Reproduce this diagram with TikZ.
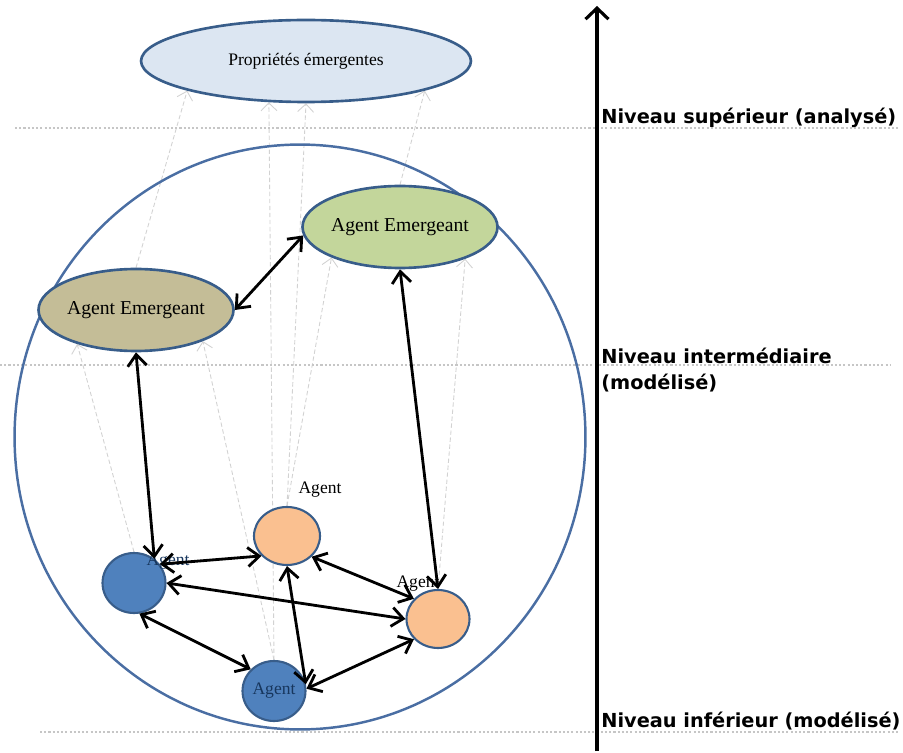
\documentclass[tikz,border=0pt]{standalone}
\usepackage{fontspec}
\setmainfont{Liberation Serif}
\newfontfamily\levelfont{DejaVu Sans}
\usepackage{tikz}
\usetikzlibrary{arrows.meta,shapes.geometric}
\pgfdeclarelayer{back}
\pgfsetlayers{back,main}

\definecolor{edge}{RGB}{56,93,138}
\definecolor{rim}{RGB}{74,110,163}
\definecolor{propfill}{RGB}{220,230,242}
\definecolor{greenfill}{RGB}{195,214,155}
\definecolor{tanfill}{RGB}{196,189,151}
\definecolor{bluefill}{RGB}{79,129,189}
\definecolor{orangefill}{RGB}{250,192,144}
\definecolor{navy}{RGB}{23,54,93}

\begin{document}
\begin{tikzpicture}[
    x=0.02cm, y=-0.02cm,
    emerg/.style={draw=edge, line width=1.5pt, ellipse, inner sep=0pt, minimum width=3.28cm, minimum height=1.64cm, fill=#1, font=\fontsize{11.2}{13}\selectfont},
    agent/.style={draw=edge, line width=1.2pt, ellipse, inner sep=0pt, minimum width=1.26cm, minimum height=1.2cm, fill=#1, font=\fontsize{10}{12}\selectfont},
    tag/.style={inner sep=0pt, font=\fontsize{10}{12}\selectfont},
    link/.style={{Straight Barb[length=2.3mm,width=3.8mm]}-{Straight Barb[length=2.3mm,width=3.8mm]}, line width=1.6pt},
    rise/.style={-{Straight Barb[length=1.6mm,width=3.2mm]}, gray!35, dash pattern=on 2.5pt off 1.5pt, line width=0.5pt},
    level/.style={anchor=west, inner sep=0pt, align=left, font=\levelfont\bfseries\fontsize{11}{14.7}\selectfont},
    sep/.style={gray!45, dash pattern=on 1.2pt off 1.2pt, line width=0.6pt}
]
\useasboundingbox (0,0) rectangle (903,753);

% Emergent properties
\node[emerg=propfill, minimum width=6.6cm, font=\fontsize{10}{12}\selectfont] (prop) at (306,61) {Propriétés émergentes};

% System
\node[draw=rim, line width=1.4pt, ellipse, minimum width=11.42cm, minimum height=11.7cm] (sys) at (300,437) {};

% Emergent agents
\node[emerg=greenfill] (emB) at (400,227) {Agent Emergeant};
\node[emerg=tanfill] (emA) at (136,310) {Agent Emergeant};

% Agents
\node[agent=bluefill] (a1) at (134,583) {};
\node[agent=orangefill, minimum width=1.32cm, minimum height=1.16cm] (a2) at (287,536) {};
\node[agent=orangefill, minimum height=1.16cm] (a3) at (438,619) {};
\node[agent=bluefill, text=navy] (a4) at (274,691) {Agent};

% Agent labels
\node[tag, text=navy] (t1) at (168,562) {Agent};
\node[tag] (t2) at (320,490) {Agent};
\node[tag] (t3) at (418,584) {Agent};

% Interactions
\draw[link] (emA.south) -- (a1.50);
\draw[link] (emA.east) -- (emB.185);
\draw[link] (emB.south) -- (a3.north);
\draw[link] (a1.36) -- (a2.218);
\draw[link] (a1.east) -- (a3.west);
\draw[link] (a1.-80) -- (a4.137);
\draw[link] (a2.south) -- (a4.12);
\draw[link] (a2.-40) -- (a3.140);
\draw[link] (a4.4) -- (a3.220);

% Emergence (behind the shapes)
\begin{pgfonlayer}{back}
\draw[rise] (emA.north) -- (prop.194);
\draw[rise] (a4.north) -- (prop.228);
\draw[rise] (a2.north) -- (prop.south);
\draw[rise] (emB.north) -- (prop.-14);
\draw[rise] (a2.north) -- (emB.204);
\draw[rise] (a3.north) -- (emB.-26);
\draw[rise] (a1.north) -- (emA.210);
\draw[rise] (a4.north) -- (emA.-25);

% Level separators
\draw[sep] (15,128) -- (900,128);
\draw[sep] (0,365) -- (890,365);
\draw[sep] (40,732) -- (900,732);
\end{pgfonlayer}

% Levels
\draw[line width=1.8pt, -{Straight Barb[length=2.2mm,width=4.6mm]}] (597,751) -- (597,6);
\node[level, anchor=base west] (lv1) at (601,124) {Niveau supérieur (analysé)};
\node[level] (lv2) at (601,370) {Niveau intermédiaire\\(modélisé)};
\node[level, anchor=base west] (lv3) at (601,727) {Niveau inférieur (modélisé)};

\end{tikzpicture}
\end{document}
